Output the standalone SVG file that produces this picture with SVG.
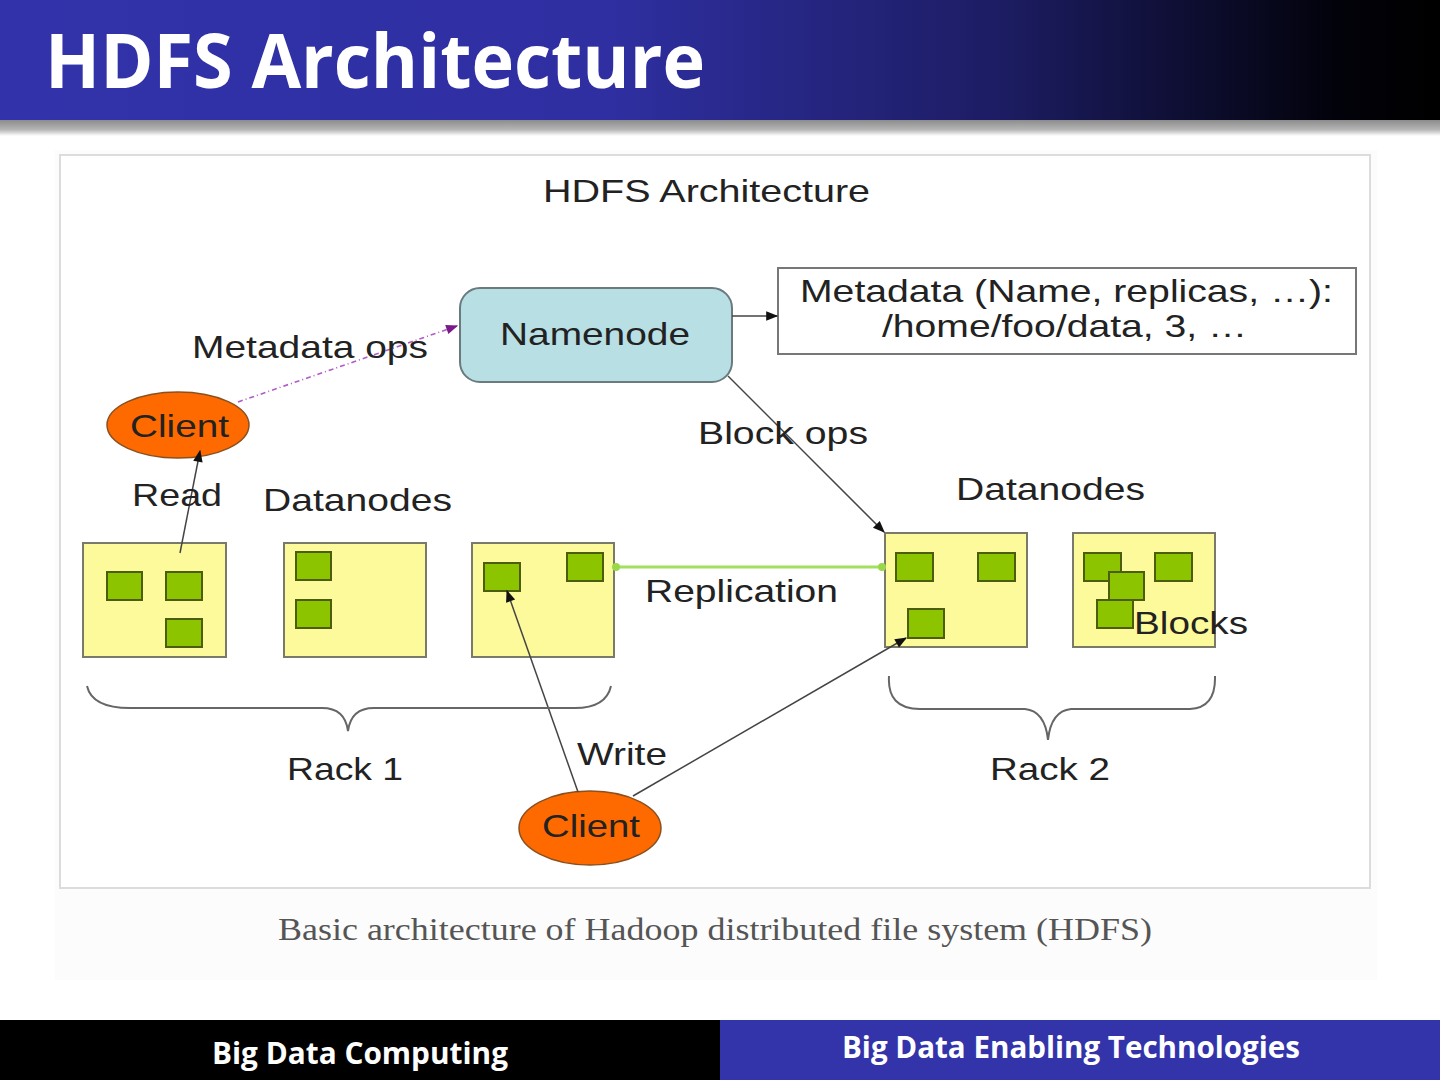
<svg xmlns="http://www.w3.org/2000/svg" width="1440" height="1080" viewBox="0 0 1440 1080">
<defs>
<linearGradient id="hdr" x1="0" y1="0" x2="1" y2="0">
<stop offset="0" stop-color="#3232aa"/>
<stop offset="0.42" stop-color="#2f2fa2"/>
<stop offset="0.7" stop-color="#1c1c62"/>
<stop offset="0.93" stop-color="#02020a"/>
<stop offset="1" stop-color="#000"/>
</linearGradient>
<linearGradient id="shd" x1="0" y1="0" x2="0" y2="1">
<stop offset="0" stop-color="#8c8c8c"/>
<stop offset="0.6" stop-color="#b5b5b5"/>
<stop offset="1" stop-color="#ffffff"/>
</linearGradient>
<marker id="ahb" viewBox="0 0 10 10" refX="9" refY="5" markerWidth="14" markerHeight="12" orient="auto" markerUnits="userSpaceOnUse">
<path d="M0,1 L10,5 L0,9 z" fill="#111"/>
</marker>
<marker id="ahp" viewBox="0 0 10 10" refX="9" refY="5" markerWidth="13" markerHeight="12" orient="auto" markerUnits="userSpaceOnUse">
<path d="M0,1 L10,5 L0,9 z" fill="#7a1a8a"/>
</marker>
<style>
.lbl{font-family:"Liberation Sans",Arial,sans-serif;font-size:32px;fill:#222;}
.box{fill:#fdfa9c;stroke:#7a7a6a;stroke-width:2;}
.blk{fill:#8cc400;stroke:#4d5d10;stroke-width:2;}
.cli{fill:#ff6a00;stroke:#8a5020;stroke-width:1.5;}
.con{stroke:#444;stroke-width:1.5;fill:none;}
.brace{stroke:#666;stroke-width:2;fill:none;}
.ftr{font-family:"Open Sans","Liberation Sans",sans-serif;font-weight:bold;font-size:30px;fill:#fff;}
</style>
</defs>

<rect x="0" y="0" width="1440" height="1080" fill="#ffffff"/>

<g id="header">
<rect x="0" y="0" width="1440" height="120" fill="url(#hdr)"/>
<rect x="0" y="120" width="1440" height="16" fill="url(#shd)"/>
<text x="45" y="88" font-family="'Open Sans','Liberation Sans',sans-serif" font-weight="bold" font-size="76" fill="#fff" textLength="660" lengthAdjust="spacingAndGlyphs">HDFS Architecture</text>
</g>

<g id="frame">
<rect x="55" y="150" width="1322" height="830" fill="#fcfcfc"/>
<rect x="60" y="155" width="1310" height="733" fill="#ffffff" stroke="#dcdcdc" stroke-width="2"/>
<text class="lbl" x="543" y="202" textLength="327" lengthAdjust="spacingAndGlyphs">HDFS Architecture</text>
</g>

<g id="namenode">
<rect x="460" y="288" width="272" height="94" rx="20" ry="20" fill="#b8dfe4" stroke="#6a7a7e" stroke-width="2"/>
<text class="lbl" x="500" y="345" textLength="190" lengthAdjust="spacingAndGlyphs">Namenode</text>
</g>

<g id="metadata">
<rect x="778" y="268" width="578" height="86" fill="#fff" stroke="#777" stroke-width="2"/>
<text class="lbl" x="800" y="302" textLength="533" lengthAdjust="spacingAndGlyphs">Metadata (Name, replicas, …):</text>
<text class="lbl" x="882" y="337" textLength="365" lengthAdjust="spacingAndGlyphs">/home/foo/data, 3, …</text>
</g>

<g id="client-read">
<ellipse class="cli" cx="178" cy="425" rx="71" ry="33"/>
<text class="lbl" x="130" y="437" textLength="99" lengthAdjust="spacingAndGlyphs">Client</text>
</g>

<g id="datanode-1">
<rect class="box" x="83" y="543" width="143" height="114"/>
<rect class="blk" x="107" y="572" width="35" height="28"/>
<rect class="blk" x="166" y="572" width="36" height="28"/>
<rect class="blk" x="166" y="619" width="36" height="28"/>
</g>
<g id="datanode-2">
<rect class="box" x="284" y="543" width="142" height="114"/>
<rect class="blk" x="296" y="552" width="35" height="28"/>
<rect class="blk" x="296" y="600" width="35" height="28"/>
</g>
<g id="datanode-3">
<rect class="box" x="472" y="543" width="142" height="114"/>
<rect class="blk" x="484" y="563" width="36" height="28"/>
<rect class="blk" x="567" y="553" width="36" height="28"/>
</g>
<g id="datanode-4">
<rect class="box" x="885" y="533" width="142" height="114"/>
<rect class="blk" x="896" y="553" width="37" height="28"/>
<rect class="blk" x="978" y="553" width="37" height="28"/>
<rect class="blk" x="908" y="609" width="36" height="29"/>
</g>
<g id="datanode-5">
<rect class="box" x="1073" y="533" width="142" height="114"/>
<rect class="blk" x="1084" y="553" width="37" height="28"/>
<rect class="blk" x="1155" y="553" width="37" height="28"/>
<rect class="blk" x="1109" y="572" width="35" height="28"/>
<rect class="blk" x="1097" y="600" width="36" height="28"/>
<text class="lbl" x="1134" y="634" textLength="114" lengthAdjust="spacingAndGlyphs">Blocks</text>
</g>

<g id="client-write">
<ellipse class="cli" cx="590" cy="828" rx="71" ry="37"/>
<text class="lbl" x="542" y="837" textLength="98" lengthAdjust="spacingAndGlyphs">Client</text>
</g>

<g id="connectors">
<line x1="238" y1="402" x2="457" y2="326" stroke="#b05cc8" stroke-width="1.6" stroke-dasharray="5,3,1,3" marker-end="url(#ahp)"/>
<line class="con" x1="732" y1="316" x2="777" y2="316" marker-end="url(#ahb)"/>
<line class="con" x1="728" y1="376" x2="884" y2="532" marker-end="url(#ahb)"/>
<line class="con" x1="180" y1="553" x2="200" y2="451" marker-end="url(#ahb)"/>
<line x1="614" y1="567" x2="885" y2="567" stroke="#a2e060" stroke-width="3"/>
<circle cx="616" cy="567" r="4" fill="#9ad84a"/>
<circle cx="882" cy="567" r="4" fill="#9ad84a"/>
<line class="con" x1="578" y1="792" x2="507" y2="591" marker-end="url(#ahb)"/>
<line class="con" x1="633" y1="796" x2="906" y2="638" marker-end="url(#ahb)"/>
</g>

<g id="labels">
<text class="lbl" x="192" y="358" textLength="236" lengthAdjust="spacingAndGlyphs">Metadata ops</text>
<text class="lbl" x="698" y="444" textLength="170" lengthAdjust="spacingAndGlyphs">Block ops</text>
<text class="lbl" x="132" y="506" textLength="90" lengthAdjust="spacingAndGlyphs">Read</text>
<text class="lbl" x="263" y="511" textLength="189" lengthAdjust="spacingAndGlyphs">Datanodes</text>
<text class="lbl" x="956" y="500" textLength="189" lengthAdjust="spacingAndGlyphs">Datanodes</text>
<text class="lbl" x="645" y="602" textLength="193" lengthAdjust="spacingAndGlyphs">Replication</text>
<text class="lbl" x="577" y="765" textLength="90" lengthAdjust="spacingAndGlyphs">Write</text>
<text class="lbl" x="287" y="780" textLength="116" lengthAdjust="spacingAndGlyphs">Rack 1</text>
<text class="lbl" x="990" y="780" textLength="120" lengthAdjust="spacingAndGlyphs">Rack 2</text>
</g>

<g id="rack-braces">
<path class="brace" d="M87,686 Q92,708 130,708 L322,708 Q345,708 348,731 Q351,708 374,708 L575,708 Q606,708 611,686"/>
<path class="brace" d="M889,676 Q887,709 920,709 L1025,709 Q1045,711 1048,740 Q1051,711 1071,709 L1190,709 Q1216,708 1215,676"/>
</g>

<g id="caption">
<text x="278" y="940" font-family="'Liberation Serif','Times New Roman',serif" font-size="31" fill="#555" textLength="874" lengthAdjust="spacingAndGlyphs">Basic architecture of Hadoop distributed file system (HDFS)</text>
</g>

<g id="footer">
<rect x="0" y="1020" width="720" height="60" fill="#000"/>
<rect x="720" y="1020" width="720" height="60" fill="#3333aa"/>
<text class="ftr" x="212" y="1064" textLength="296" lengthAdjust="spacingAndGlyphs">Big Data Computing</text>
<text class="ftr" x="842" y="1058" textLength="458" lengthAdjust="spacingAndGlyphs">Big Data Enabling Technologies</text>
</g>
</svg>
